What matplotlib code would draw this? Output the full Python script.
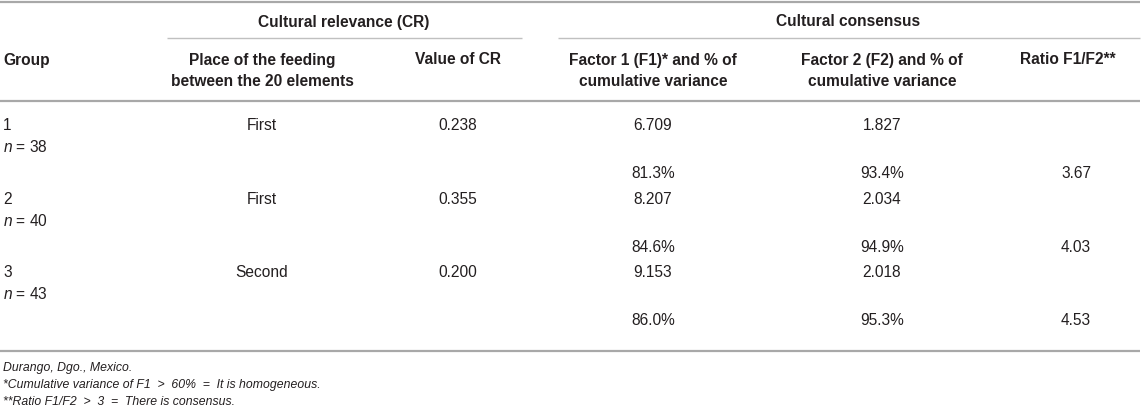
import matplotlib
matplotlib.use("Agg")
import matplotlib.pyplot as plt

plt.rcParams['font.family'] = ['Liberation Sans', 'DejaVu Sans']
plt.rcParams['mathtext.fontset'] = 'custom'
plt.rcParams['mathtext.it'] = 'Liberation Sans:italic'
plt.rcParams['mathtext.rm'] = 'Liberation Sans'

# ---- data ----
groups = ["1", "2", "3"]
group_n = [38, 40, 43]
place_of_feeding = ["First", "First", "Second"]
value_cr = ["0.238", "0.355", "0.200"]
factor1 = ["6.709", "8.207", "9.153"]
factor1_pct = ["81.3%", "84.6%", "86.0%"]
factor2 = ["1.827", "2.034", "2.018"]
factor2_pct = ["93.4%", "94.9%", "95.3%"]
ratio = ["3.67", "4.03", "4.53"]

span_headers = ["Cultural relevance (CR)", "Cultural consensus"]
col_headers = ["Group", "Place of the feeding\nbetween the 20 elements", "Value of CR",
               "Factor 1 (F1)* and % of\ncumulative variance",
               "Factor 2 (F2) and % of\ncumulative variance", "Ratio F1/F2**"]
footnotes = ["Durango, Dgo., Mexico.",
             "*Cumulative variance of F1  >  60%  =  It is homogeneous.",
             "**Ratio F1/F2  >  3  =  There is consensus."]

# ---- layout (pixels) ----
W, H = 1143, 406
fig = plt.figure(figsize=(W / 100, H / 100), dpi=100)
ax = fig.add_axes([0, 0, 1, 1])
ax.set_xlim(0, W)
ax.set_ylim(H, 0)
ax.axis('off')

txt = '#231f20'
line_c = '#a8a8a8'
sub_c = '#c0c0c0'
fs = 11.2
fs_note = 8.8

# rules
ax.plot([0, 1140], [3, 3], color=line_c, lw=1.6, solid_capstyle='butt')
ax.plot([167, 522], [39, 39], color=sub_c, lw=1.0, solid_capstyle='butt')
ax.plot([558, 1140], [39, 39], color=sub_c, lw=1.0, solid_capstyle='butt')
ax.plot([0, 1140], [102, 102], color=line_c, lw=1.6, solid_capstyle='butt')
ax.plot([0, 1140], [352, 352], color=line_c, lw=1.6, solid_capstyle='butt')

# spanning headers
ax.text(344, 22, span_headers[0], ha='center', va='center', fontsize=fs,
        fontweight='bold', color=txt)
ax.text(848, 22, span_headers[1], ha='center', va='center', fontsize=fs,
        fontweight='bold', color=txt)

# column headers (top-aligned lines)
hdr_x = [3, 262, 458, 653, 882, 1068]
hdr_ha = ['left', 'center', 'center', 'center', 'center', 'center']
for x, ha, h in zip(hdr_x, hdr_ha, col_headers):
    for k, line in enumerate(h.split('\n')):
        ax.text(x, 60 + 21.5 * k, line, ha=ha, va='center', fontsize=fs,
                fontweight='bold', color=txt)

# body rows
row_y0 = 126
row_step = 73.5
for i in range(len(groups)):
    y = row_y0 + row_step * i
    ax.text(3, y, groups[i], ha='left', va='center', fontsize=fs, color=txt)
    ax.text(3, y + 21.5, r"$n$ = %d" % group_n[i], ha='left', va='center',
            fontsize=fs, color=txt)
    ax.text(262, y, place_of_feeding[i], ha='center', va='center', fontsize=fs, color=txt)
    ax.text(458, y, value_cr[i], ha='center', va='center', fontsize=fs, color=txt)
    ax.text(653, y, factor1[i], ha='center', va='center', fontsize=fs, color=txt)
    ax.text(882, y, factor2[i], ha='center', va='center', fontsize=fs, color=txt)
    ax.text(653, y + 48, factor1_pct[i], ha='center', va='center', fontsize=fs, color=txt)
    ax.text(882, y + 48, factor2_pct[i], ha='center', va='center', fontsize=fs, color=txt)
    ax.text(1076, y + 48, ratio[i], ha='center', va='center', fontsize=fs, color=txt)

# footnotes
for k, note in enumerate(footnotes):
    ax.text(3, 368 + 17 * k, note, ha='left', va='center', fontsize=fs_note,
            style='italic', color=txt)

fig.savefig("out.png", dpi=100)
